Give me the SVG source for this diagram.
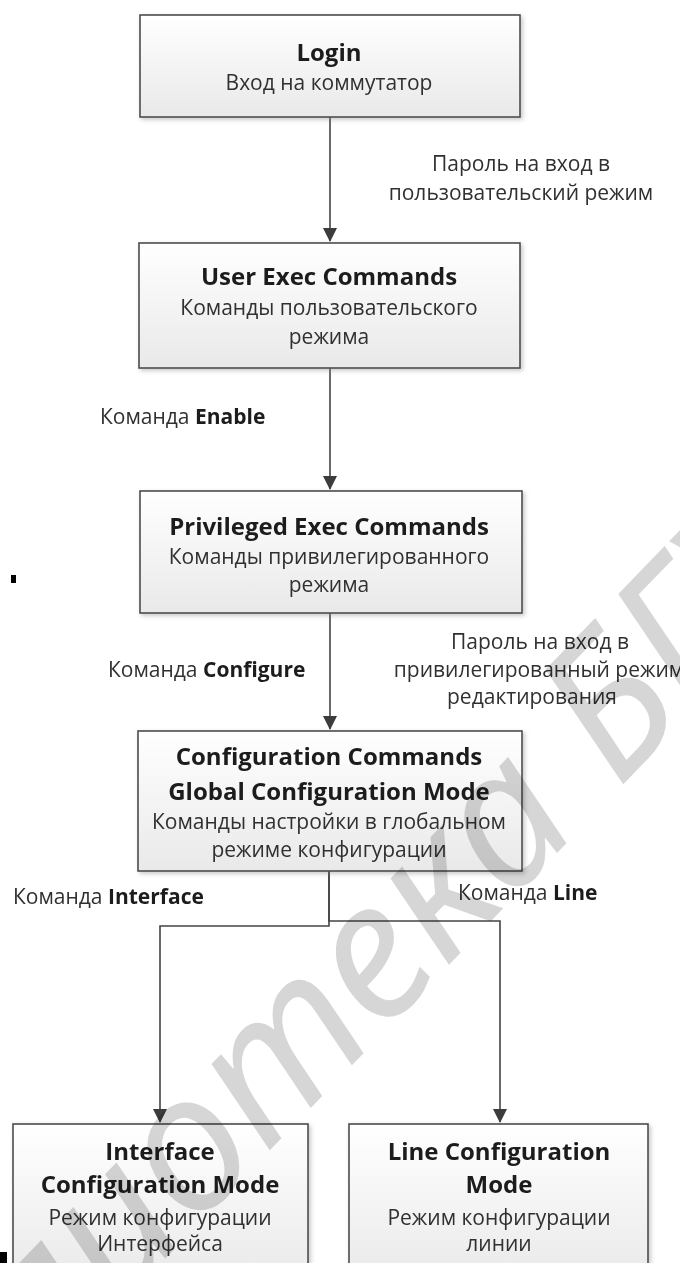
<svg xmlns="http://www.w3.org/2000/svg" width="680" height="1263" viewBox="0 0 680 1263">
<style>
.box{fill:url(#g);stroke:#4d4d4d;stroke-width:1.6;filter:url(#sh)}
.t{font-family:"Open Sans","Noto Sans",sans-serif;font-size:24px;font-weight:bold;fill:#1c1c1c;text-anchor:middle}
.b{font-family:"Open Sans","Noto Sans",sans-serif;font-size:21px;fill:#303030;text-anchor:middle}
.l{font-family:"Open Sans","Noto Sans",sans-serif;font-size:21px;fill:#303030}
.lc{text-anchor:middle}
.bd{font-weight:bold;fill:#1c1c1c}
.c{fill:none;stroke:#444;stroke-width:1.6}
.wm{font-family:"Noto Sans","Open Sans",sans-serif;font-style:italic;font-size:190px;fill:#d6d6d6;mix-blend-mode:multiply}
</style>
<defs>
<linearGradient id="g" x1="0" y1="0" x2="0" y2="1">
<stop offset="0" stop-color="#ffffff"/>
<stop offset="1" stop-color="#e9e9e9"/>
</linearGradient>
<filter id="sh" x="-5%" y="-5%" width="115%" height="120%">
<feDropShadow dx="2" dy="2" stdDeviation="2" flood-color="#888" flood-opacity="0.45"/>
</filter>
<marker id="ah" markerWidth="14" markerHeight="16" refX="13" refY="7" orient="auto" markerUnits="userSpaceOnUse">
<path d="M0,0 L14,7 L0,14 Z" fill="#3c3c3c"/>
</marker>
</defs>
<rect width="680" height="1263" fill="#fff"/>

<g id="connectors">
<path class="c" d="M330,117 V241" marker-end="url(#ah)"/>
<path class="c" d="M330,368 V489" marker-end="url(#ah)"/>
<path class="c" d="M330,613 V729" marker-end="url(#ah)"/>
<path class="c" d="M329,871 V926 H160 V1122" marker-end="url(#ah)"/>
<path class="c" d="M329,871 V921 H500 V1122" marker-end="url(#ah)"/>
</g>

<g id="login">
<rect class="box" x="140" y="15" width="380" height="102"/>
<text class="t" x="329" y="61">Login</text>
<text class="b" x="329" y="90">Вход на коммутатор</text>
</g>

<g id="user-exec">
<rect class="box" x="139" y="243" width="381" height="125"/>
<text class="t" x="329" y="285">User Exec Commands</text>
<text class="b" x="329" y="315">Команды пользовательского</text>
<text class="b" x="329" y="344">режима</text>
</g>

<g id="privileged-exec">
<rect class="box" x="140" y="491" width="382" height="122"/>
<text class="t" x="329" y="535">Privileged Exec Commands</text>
<text class="b" x="329" y="564">Команды привилегированного</text>
<text class="b" x="329" y="592">режима</text>
</g>

<g id="global-config">
<rect class="box" x="138" y="731" width="384" height="140"/>
<text class="t" x="329" y="765">Configuration Commands</text>
<text class="t" x="329" y="800">Global Configuration Mode</text>
<text class="b" x="329" y="829">Команды настройки в глобальном</text>
<text class="b" x="329" y="857">режиме конфигурации</text>
</g>

<g id="interface-config">
<rect class="box" x="13" y="1124" width="295" height="160"/>
<text class="t" x="160" y="1160">Interface</text>
<text class="t" x="160" y="1193">Configuration Mode</text>
<text class="b" x="160" y="1225">Режим конфигурации</text>
<text class="b" x="160" y="1251">Интерфейса</text>
</g>

<g id="line-config">
<rect class="box" x="349" y="1124" width="299" height="160"/>
<text class="t" x="499" y="1160">Line Configuration</text>
<text class="t" x="499" y="1193">Mode</text>
<text class="b" x="499" y="1225">Режим конфигурации</text>
<text class="b" x="499" y="1251">линии</text>
</g>

<g id="labels">
<text class="l lc" x="521" y="171">Пароль на вход в</text>
<text class="l lc" x="521" y="200">пользовательский режим</text>
<text class="l" x="100" y="424">Команда <tspan class="bd">Enable</tspan></text>
<text class="l" x="108" y="677">Команда <tspan class="bd">Configure</tspan></text>
<text class="l lc" x="540" y="649">Пароль на вход в</text>
<text class="l lc" x="539" y="677">привилегированный режим</text>
<text class="l lc" x="532" y="704">редактирования</text>
<text class="l" x="13" y="904">Команда <tspan class="bd">Interface</tspan></text>
<text class="l" x="458" y="900">Команда <tspan class="bd">Line</tspan></text>
</g>

<g id="marks">
<rect x="11" y="575" width="5" height="8" fill="#000"/>
<rect x="0" y="1252" width="7" height="11" fill="#000"/>
</g>

<text class="wm" transform="translate(-178,1614) rotate(-46)">Библиотека БГУИР</text>
</svg>
